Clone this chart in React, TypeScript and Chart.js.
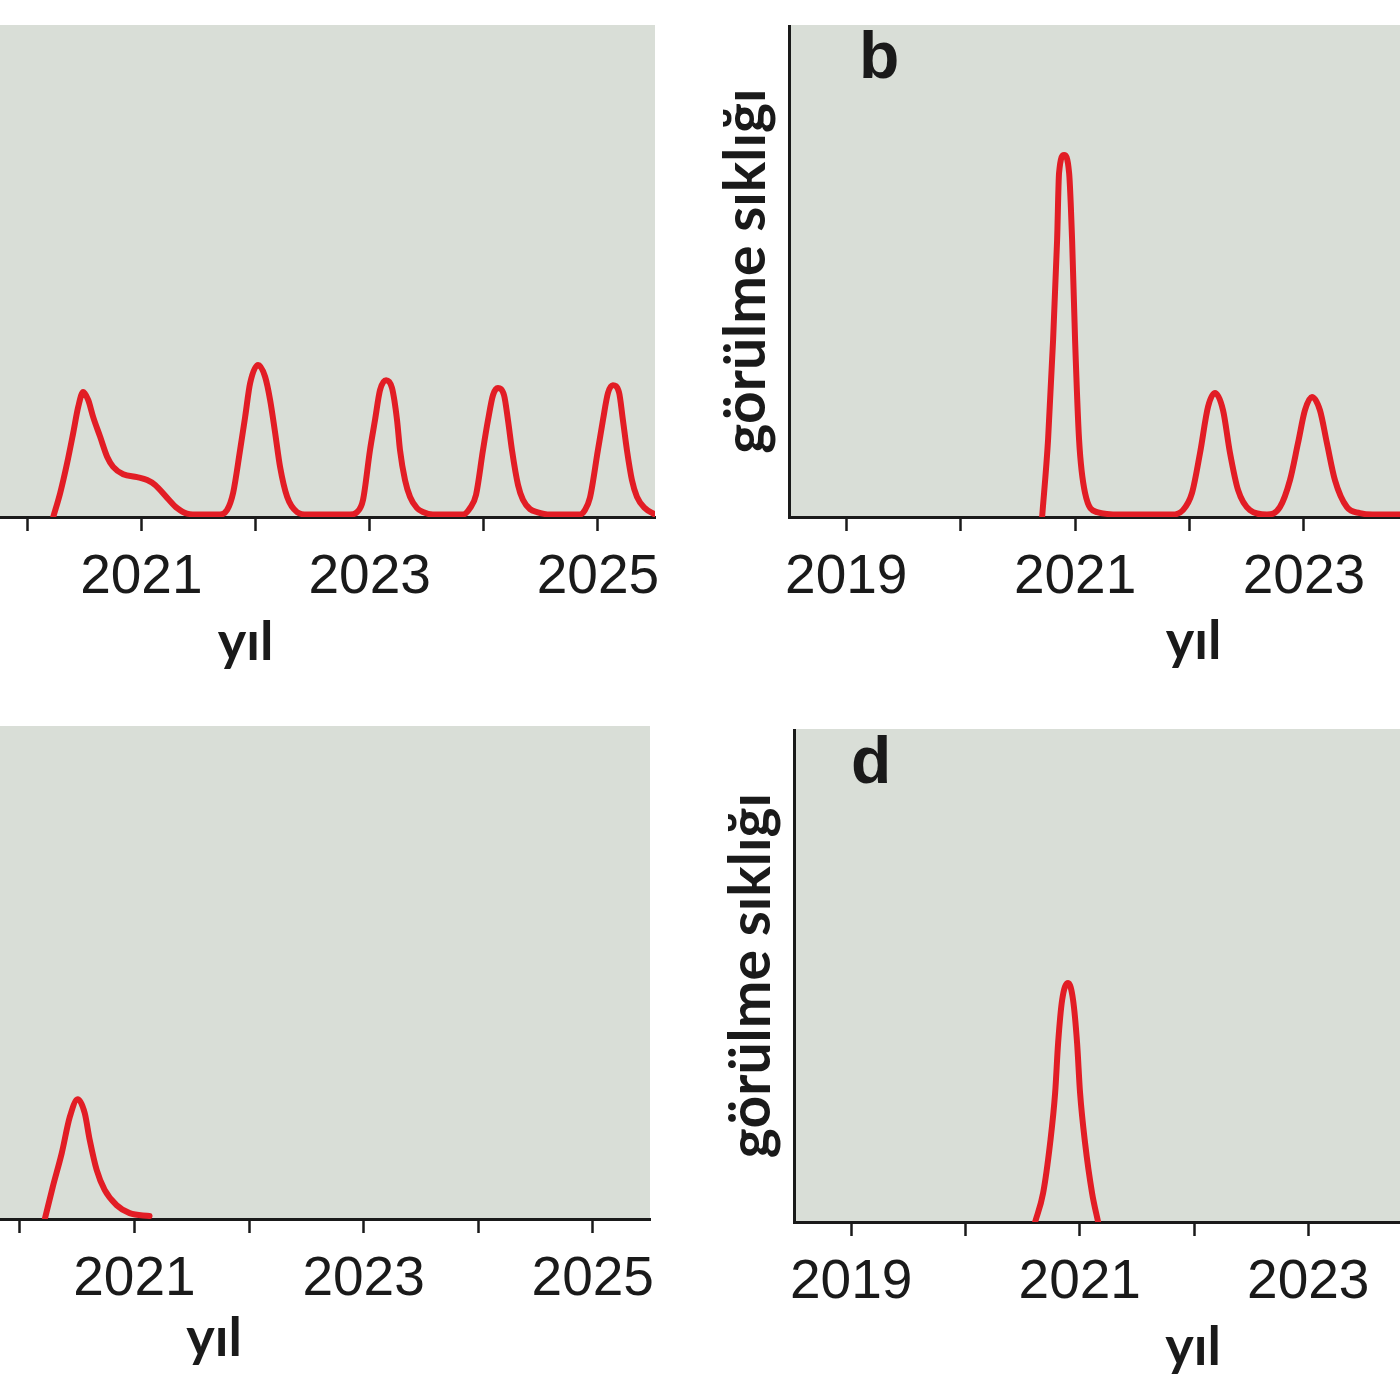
import React, { useEffect, useRef } from "react";
import { Chart, registerables } from "chart.js";

Chart.register(...registerables);

// ---- axis data ----
const TICK_YEARS = [2019, 2020, 2021, 2022, 2023, 2024, 2025];
const LABELED_YEARS = [2019, 2021, 2023, 2025];
const X_MIN = 2018.5;
const X_MAX = 2025.5;
const Y_MIN = 0;
const Y_MAX = 100;
const X_TITLE = "yıl";
const Y_TITLE = "görülme sıklığı";

// ---- panel a (top-left) ----
const A_YEARS = [
  2020.228, 2020.289, 2020.35, 2020.403, 2020.447, 2020.49, 2020.534, 2020.578, 2020.639, 2020.701,
  2020.753, 2020.841, 2020.963, 2021.051, 2021.121, 2021.226, 2021.314, 2021.401, 2021.515, 2021.69,
  2021.751, 2021.804, 2021.865, 2021.909, 2021.953, 2022.023, 2022.084, 2022.128, 2022.172, 2022.215,
  2022.277, 2022.364, 2022.452, 2022.828, 2022.89, 2022.942, 2023.003, 2023.047, 2023.091, 2023.144,
  2023.196, 2023.24, 2023.266, 2023.31, 2023.354, 2023.415, 2023.468, 2023.555, 2023.818, 2023.879,
  2023.932, 2023.993, 2024.037, 2024.081, 2024.124, 2024.177, 2024.212, 2024.247, 2024.3, 2024.343,
  2024.405, 2024.466, 2024.58, 2024.842, 2024.886, 2024.93, 2025.0, 2025.044, 2025.088, 2025.131,
  2025.184, 2025.219, 2025.254, 2025.298, 2025.342, 2025.412, 2025.499,
];
const A_VALUES = [
  0, 4.9, 11.0, 17.1, 22.4, 25.4, 23.8, 20.3, 16.3, 12.2,
  10.2, 8.7, 8.1, 7.5, 6.5, 3.9, 1.8, 0.7, 0.5, 0.5,
  1.4, 4.9, 13.6, 20.3, 27.2, 30.9, 28.5, 23.8, 17.1, 10.2,
  4.1, 1.0, 0.5, 0.5, 1.0, 3.5, 13.6, 19.7, 25.8, 27.8,
  26.2, 19.7, 13.6, 7.5, 4.1, 1.8, 1.0, 0.5, 0.5, 1.8,
  4.5, 13.6, 19.7, 24.8, 26.2, 24.8, 19.7, 13.6, 6.5, 3.5,
  1.6, 1.0, 0.5, 0.5, 1.4, 3.9, 13.6, 19.7, 25.2, 26.8,
  25.4, 19.7, 13.6, 7.5, 4.1, 1.8, 0.5,
];

// ---- panel b (top-right) ----
const B_YEARS = [
  2020.712, 2020.764, 2020.808, 2020.843, 2020.86, 2020.904, 2020.948, 2020.974, 2021.0, 2021.035,
  2021.087, 2021.192, 2021.393, 2021.85, 2021.943, 2022.022, 2022.092, 2022.162, 2022.223, 2022.293,
  2022.354, 2022.424, 2022.528, 2022.677, 2022.79, 2022.878, 2022.948, 2023.009, 2023.07, 2023.14,
  2023.201, 2023.271, 2023.376, 2023.489, 2023.6, 2023.84,
];
const B_VALUES = [
  0, 15.7, 36.0, 56.3, 69.9, 73.6, 69.9, 56.3, 36.0, 15.7,
  4.9, 1.0, 0.5, 0.5, 1.4, 4.9, 13.0, 22.4, 25.2, 21.7,
  13.0, 5.5, 1.4, 0.5, 2.0, 7.5, 15.0, 21.7, 24.4, 21.7,
  15.0, 7.5, 2.0, 0.8, 0.5, 0.5,
];

// ---- panel c (bottom-left) ----
const C_YEARS = [
  2020.218, 2020.287, 2020.366, 2020.436, 2020.505, 2020.566, 2020.61, 2020.671, 2020.74, 2020.845,
  2020.958, 2021.132,
];
const C_VALUES = [0, 6.5, 13.4, 20.7, 24.3, 21.5, 16.0, 9.9, 5.9, 2.8, 1.2, 0.6];

// ---- panel d (bottom-right) ----
const D_YEARS = [
  2020.61, 2020.68, 2020.741, 2020.785, 2020.811, 2020.846, 2020.899, 2020.942, 2020.977, 2021.003,
  2021.047, 2021.108, 2021.161,
];
const D_VALUES = [0, 5.9, 16.0, 26.2, 36.3, 45.0, 48.5, 45.0, 36.3, 26.2, 16.0, 5.9, 0];

// ---- styles ----
const LINE_COLOR = "rgb(226, 29, 37)";
const PANEL_BG = "rgb(217, 222, 215)";
const INK = "#1a1a1a";
const RIGHT_PAD = 12;

const decorPlugin = {
  id: "panelDecor",
  beforeDraw(chart: any, _args: any, opts: any) {
    const { ctx, chartArea: a } = chart;
    ctx.save();
    ctx.fillStyle = opts.bg;
    ctx.fillRect(a.left, a.top, a.right - a.left, a.bottom - a.top);
    ctx.restore();
  },
  afterDraw(chart: any, _args: any, opts: any) {
    const { ctx, chartArea: a } = chart;
    ctx.save();
    ctx.fillStyle = INK;
    ctx.textBaseline = "alphabetic";
    if (opts.letter) {
      ctx.font = "bold 66px 'Liberation Sans', Arial, sans-serif";
      ctx.textAlign = "left";
      ctx.fillText(opts.letter, a.left + opts.letterDx, a.top + opts.letterDy);
    }
    ctx.font = "bold 54px Lato, 'Open Sans', sans-serif";
    ctx.textAlign = "center";
    ctx.fillText(opts.caption, (a.left + a.right) / 2 + opts.capDx, a.bottom + opts.capDy);
    ctx.restore();
  },
};

type PanelProps = {
  left: number;
  top: number;
  width: number;
  height: number;
  years: number[];
  values: number[];
  letter: string;
  letterDx: number;
  letterDy: number;
  capDx: number;
  capDy: number;
};

function Panel(p: PanelProps) {
  const ref = useRef<HTMLCanvasElement | null>(null);
  useEffect(() => {
    if (!ref.current) return;
    const points = p.years.map((x, i) => ({ x, y: p.values[i] }));
    const chart = new Chart(ref.current, {
      type: "line",
      data: {
        datasets: [
          {
            data: points,
            borderColor: LINE_COLOR,
            borderWidth: 6,
            pointRadius: 0,
            fill: false,
            cubicInterpolationMode: "monotone",
            borderCapStyle: "round",
            borderJoinStyle: "round",
          },
        ],
      },
      options: {
        animation: false,
        responsive: true,
        maintainAspectRatio: false,
        events: [],
        layout: { padding: { left: 0, top: 0, bottom: 0, right: RIGHT_PAD }, autoPadding: false },
        plugins: {
          legend: { display: false },
          tooltip: { enabled: false },
          panelDecor: {
            bg: PANEL_BG,
            letter: p.letter,
            letterDx: p.letterDx,
            letterDy: p.letterDy,
            caption: X_TITLE,
            capDx: p.capDx,
            capDy: p.capDy,
          },
        } as any,
        scales: {
          x: {
            type: "linear",
            min: X_MIN,
            max: X_MAX,
            afterBuildTicks: (scale: any) => {
              scale.ticks = TICK_YEARS.map((v) => ({ value: v }));
            },
            afterFit: (scale: any) => {
              scale.height = 160;
              scale.paddingLeft = 0;
              scale.paddingRight = 0;
            },
            ticks: {
              autoSkip: false,
              maxRotation: 0,
              minRotation: 0,
              padding: 14,
              color: INK,
              font: { family: "'Liberation Sans', Arial, sans-serif", size: 55 },
              callback: (v: any) => (LABELED_YEARS.includes(Number(v)) ? String(v) : ""),
            },
            grid: {
              display: true,
              drawOnChartArea: false,
              drawTicks: true,
              tickLength: 14,
              tickWidth: 2.5,
              tickColor: INK,
              color: INK,
            },
            border: { display: true, color: INK, width: 3 },
            title: { display: false },
          },
          y: {
            type: "linear",
            min: Y_MIN,
            max: Y_MAX,
            afterFit: (scale: any) => {
              scale.width = 100;
              scale.paddingTop = 0;
              scale.paddingBottom = 0;
            },
            ticks: { display: false },
            grid: { display: false },
            border: { display: true, color: INK, width: 3 },
            title: {
              display: true,
              text: Y_TITLE,
              color: INK,
              font: { family: "Lato, 'Open Sans', sans-serif", weight: "bold", size: 57 },
              padding: { top: 23, bottom: 0 },
            },
          },
        },
      },
      plugins: [decorPlugin as any],
    });
    return () => chart.destroy();
  }, []);
  return (
    <div
      style={{
        position: "absolute",
        left: p.left,
        top: p.top,
        width: p.width + RIGHT_PAD,
        height: p.height,
      }}
    >
      <canvas ref={ref} />
    </div>
  );
}

export default function App() {
  return (
    <div
      style={{
        position: "fixed",
        left: 0,
        top: 0,
        width: 1400,
        height: 1400,
        overflow: "hidden",
        background: "#ffffff",
      }}
    >
      <Panel left={-244} top={25} width={899} height={652} years={A_YEARS} values={A_VALUES}
        letter="" letterDx={0} letterDy={0} capDx={-10} capDy={143} />
      <Panel left={689} top={25} width={901} height={652} years={B_YEARS} values={B_VALUES}
        letter="b" letterDx={70} letterDy={53} capDx={4} capDy={142} />
      <Panel left={-252} top={726} width={902} height={653} years={C_YEARS} values={C_VALUES}
        letter="" letterDx={0} letterDy={0} capDx={-35} capDy={137} />
      <Panel left={694} top={729} width={900} height={653} years={D_YEARS} values={D_VALUES}
        letter="d" letterDx={57} letterDy={54} capDx={-1} capDy={143} />
    </div>
  );
}
